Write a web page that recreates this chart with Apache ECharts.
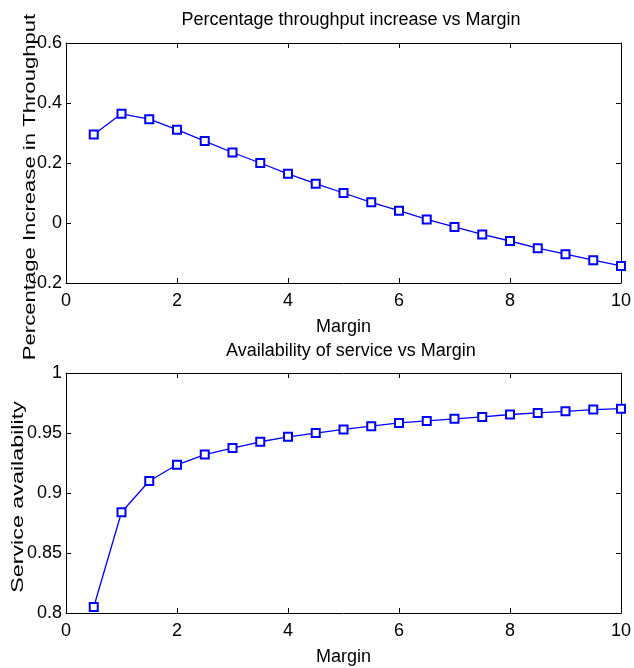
<!DOCTYPE html>
<html>
<head>
<meta charset="utf-8">
<script src="https://cdn.jsdelivr.net/npm/echarts@6/dist/echarts.min.js"></script>
<style>html,body{margin:0;padding:0;background:#fff;}#c{width:634px;height:668px;}</style>
</head>
<body>
<div id="c"></div>
<script>
var margins = [0.5,1,1.5,2,2.5,3,3.5,4,4.5,5,5.5,6,6.5,7,7.5,8,8.5,9,9.5,10];
var throughputIncrease = [0.295,0.364,0.346,0.311,0.273,0.235,0.200,0.164,0.131,0.100,0.069,0.041,0.012,-0.013,-0.038,-0.060,-0.084,-0.104,-0.124,-0.143];
var availability = [0.805,0.884,0.910,0.9235,0.932,0.9374,0.9427,0.9468,0.9499,0.953,0.9557,0.9584,0.9601,0.9618,0.9634,0.9654,0.9667,0.9681,0.9695,0.9703];
var xTicks = {min:0,max:10,interval:2};
var topY = {min:-0.2,max:0.6,interval:0.2};
var botY = {min:0.8,max:1,interval:0.05};
var titles = ['Percentage throughput increase vs Margin','Availability of service vs Margin'];
var xName = 'Margin';
var yNames = ['Percentage Increase in Throughput','Service availability'];

var FONT = '"Liberation Sans",Arial,Helvetica,sans-serif';
var FS = 18;
var line = {show:true, onZero:false, lineStyle:{color:'#000', width:1}};
var tick = {show:true, inside:true, length:5, lineStyle:{color:'#000'}};
var lbl = {show:true, color:'#000', fontFamily:FONT, fontSize:FS};
function pair(arr, ys){ return arr.map(function(x,i){return [x, ys[i]];}); }

function xAx(grid){
  return [
    {type:'value', gridIndex:grid, position:'bottom', min:xTicks.min, max:xTicks.max, interval:xTicks.interval,
     axisLine:line, axisTick:tick, splitLine:{show:false}, axisLabel:Object.assign({margin:9}, lbl),
     name:xName, nameLocation:'middle', nameGap:35, nameTextStyle:{color:'#000', fontFamily:FONT, fontSize:FS}},
    {type:'value', gridIndex:grid, position:'top', min:xTicks.min, max:xTicks.max, interval:xTicks.interval,
     axisLine:line, axisTick:tick, splitLine:{show:false}, axisLabel:{show:false}}
  ];
}
function yAx(grid, r){
  return [
    {type:'value', gridIndex:grid, position:'left', min:r.min, max:r.max, interval:r.interval,
     axisLine:line, axisTick:tick, splitLine:{show:false}, axisLabel:Object.assign({margin:4}, lbl)},
    {type:'value', gridIndex:grid, position:'right', min:r.min, max:r.max, interval:r.interval,
     axisLine:line, axisTick:tick, splitLine:{show:false}, axisLabel:{show:false}}
  ];
}

var chart = echarts.init(document.getElementById('c'), null, {renderer:'canvas'});
chart.setOption({
  backgroundColor:'#fff',
  animation:false,
  title:[
    {text:titles[0], left:346, top:6, textAlign:'center', textStyle:{color:'#000', fontWeight:'normal', fontFamily:FONT, fontSize:FS}},
    {text:titles[1], left:346, top:337, textAlign:'center', textStyle:{color:'#000', fontWeight:'normal', fontFamily:FONT, fontSize:FS}}
  ],
  graphic:[
    {type:'text', x:30, y:187, rotation:Math.PI/2, scaleX:1.3, silent:true,
     style:{text:yNames[0], fill:'#000', font:'17px ' + FONT, textAlign:'center', textVerticalAlign:'middle'}},
    {type:'text', x:18, y:497, rotation:Math.PI/2, scaleX:1.37, silent:true,
     style:{text:yNames[1], fill:'#000', font:'17px ' + FONT, textAlign:'center', textVerticalAlign:'middle'}}
  ],
  grid:[
    {left:66, top:43, width:560, height:240},
    {left:66, top:373, width:560, height:240}
  ],
  xAxis: xAx(0).concat(xAx(1)),
  yAxis: yAx(0, topY).concat(yAx(1, botY)),
  series:[
    {type:'line', xAxisIndex:0, yAxisIndex:0, data:pair(margins, throughputIncrease),
     symbol:'emptyRect', symbolSize:8, lineStyle:{color:'#0000ff', width:1.3}, itemStyle:{color:'#0000ff', borderWidth:1.3}},
    {type:'line', xAxisIndex:2, yAxisIndex:2, data:pair(margins, availability),
     symbol:'emptyRect', symbolSize:8, lineStyle:{color:'#0000ff', width:1.3}, itemStyle:{color:'#0000ff', borderWidth:1.3}}
  ]
});
</script>
</body>
</html>
